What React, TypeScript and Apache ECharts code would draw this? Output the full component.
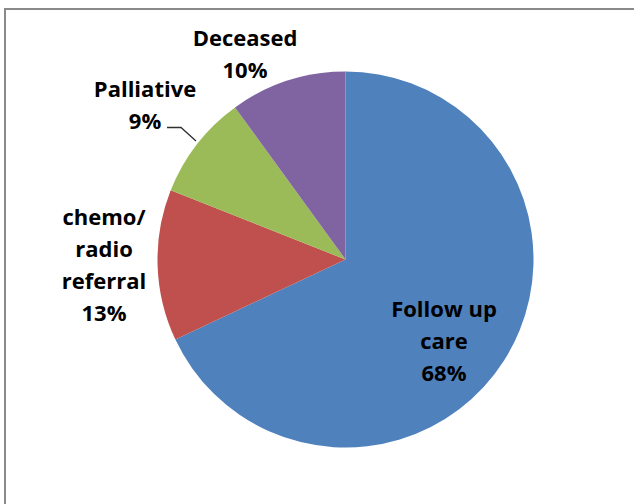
import React, { useEffect, useRef } from "react";
import * as echarts from "echarts";

const categories = ["Follow up care", "chemo/ radio referral", "Palliative", "Deceased"];
const values = [68, 13, 9, 10];
const labelLines = [["Follow up", "care"], ["chemo/", "radio", "referral"], ["Palliative"], ["Deceased"]];
const colors = ["#4F81BD", "#C0504D", "#9BBB59", "#8064A2"];

// label anchor positions (centre of each text block) and Palliative leader line
const labelPos = [
  [444, 340],
  [104, 264],
  [145, 104],
  [245, 53],
];
const palliativeLeader = [
  [167, 127.5],
  [181, 127.5],
  [196, 141],
];

export default function App() {
  const ref = useRef<HTMLDivElement>(null);
  useEffect(() => {
    if (!ref.current) return;
    const chart = echarts.init(ref.current, null, { renderer: "svg" });
    chart.setOption({
      animation: false,
      backgroundColor: "#ffffff",
      graphic: [
        {
          type: "rect",
          shape: { x: 5, y: 9, width: 660, height: 520 },
          style: { fill: "none", stroke: "#8a8a8a", lineWidth: 2 },
          silent: true,
        },
      ],
      series: [
        {
          type: "pie",
          center: [345.5, 259.5],
          radius: 188,
          startAngle: 90,
          clockwise: true,
          avoidLabelOverlap: false,
          itemStyle: { borderWidth: 0 },
          label: {
            show: true,
            position: "outside",
            color: "#000000",
            fontFamily: "'Open Sans', 'Noto Sans', sans-serif",
            fontWeight: "bold",
            fontSize: 22,
            lineHeight: 32,
            align: "center",
            formatter: (p: any) => [...labelLines[p.dataIndex], p.value + "%"].join("\n"),
          },
          labelLine: { show: false },
          labelLayout: (params: any) => {
            const i = params.dataIndex;
            const res: any = {
              x: labelPos[i][0],
              y: labelPos[i][1],
              align: "center",
              verticalAlign: "middle",
            };
            if (i === 2) res.labelLinePoints = palliativeLeader;
            return res;
          },
          data: categories.map((name, i) => ({
            name,
            value: values[i],
            itemStyle: { color: colors[i] },
            labelLine:
              i === 2
                ? { show: true, smooth: false, lineStyle: { color: "#303030", width: 1.3 } }
                : { show: false },
          })),
        },
      ],
    });
    return () => chart.dispose();
  }, []);
  return (
    <div
      ref={ref}
      style={{ position: "fixed", left: 0, top: 0, width: 634, height: 504 }}
    />
  );
}
